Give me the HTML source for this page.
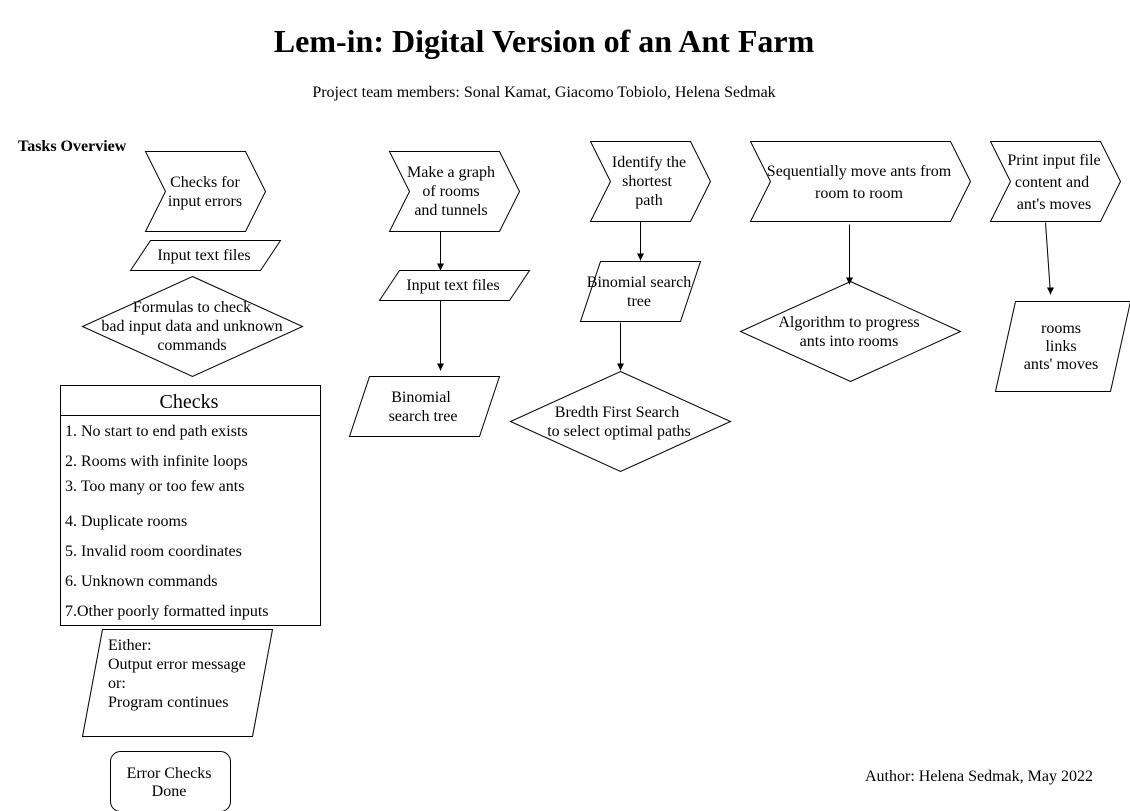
<!DOCTYPE html>
<html><head><meta charset="utf-8"><style>
html,body{margin:0;padding:0;background:#fff;}
svg{display:block;font-family:"Liberation Serif",serif;}
text{font-size:16px;fill:#000;}
</style></head><body>
<svg width="1130" height="811" viewBox="0 0 1130 811" xmlns="http://www.w3.org/2000/svg">
<defs><marker id="a" markerWidth="10" markerHeight="10" refX="3.5" refY="7" orient="0" markerUnits="userSpaceOnUse"><path d="M0,0 L7,0 L3.5,7 z"/></marker></defs>
<g fill="none" stroke="#000" stroke-width="1" transform="translate(0.5,0.5)">
<polygon points="145,151 245,151 265,191 245,231 145,231 165,191" fill="#fff"/>
<polygon points="389,151 499,151 519,191 499,231 389,231 409,191" fill="#fff"/>
<polygon points="590,141 690,141 710,181 690,221 590,221 610,181" fill="#fff"/>
<polygon points="750,141 950,141 970,181 950,221 750,221 770,181" fill="#fff"/>
<polygon points="990,141 1100,141 1120,181 1100,221 990,221 1010,181" fill="#fff"/>
<polygon points="150,240 280,240 260,270 130,270"/>
<polygon points="399,270 529,270 509,300 379,300"/>
<polygon points="369,376 499,376 479,436 349,436"/>
<polygon points="600,261 700,261 680,321 580,321"/>
<polygon points="1015,301 1130,301 1110,391 995,391"/>
<polygon points="102,629 272,629 252,736 82,736"/>
<polygon points="192,276 302,326 192,376 82,326"/>
<polygon points="620,371 730,421 620,471 510,421"/>
<polygon points="850,281 960,331 850,381 740,331"/>
<rect x="60" y="385" width="260" height="240"/>
<line x1="60" y1="415" x2="320" y2="415"/>
<rect x="110" y="751" width="120" height="60" rx="10"/>
<path d="M440,231 Q440,236 440,240 L440,270" marker-end="url(#a)"/>
<line x1="440" y1="300" x2="440" y2="370" marker-end="url(#a)"/>
<line x1="640" y1="221" x2="640" y2="260" marker-end="url(#a)"/>
<line x1="620" y1="322" x2="620" y2="370" marker-end="url(#a)"/>
<line x1="849" y1="224" x2="849" y2="284" marker-end="url(#a)"/>
<line x1="1045" y1="222" x2="1050" y2="294" marker-end="url(#a)"/>
</g>
<text x="544" y="52" text-anchor="middle" style="font-size:32px;font-weight:bold">Lem-in: Digital Version of an Ant Farm</text>
<text x="544" y="97" text-anchor="middle">Project team members: Sonal Kamat, Giacomo Tobiolo, Helena Sedmak</text>
<text x="18" y="151" style="font-weight:bold">Tasks Overview</text>
<g text-anchor="middle">
<text x="205" y="187">Checks for</text><text x="205" y="206">input errors</text>
<text x="451" y="177">Make a graph</text><text x="451" y="196">of rooms</text><text x="451" y="215">and tunnels</text>
<text x="649" y="167">Identify the</text><text x="647" y="186">shortest</text><text x="649" y="205">path</text>
<text x="859" y="176">Sequentially move ants from</text><text x="859" y="198">room to room</text>
<text x="1054" y="165">Print input file</text><text x="1052" y="187">content and</text><text x="1054" y="209">ant's moves</text>
<text x="204" y="260">Input text files</text>
<text x="453" y="290">Input text files</text>
<text x="421" y="402">Binomial</text><text x="423" y="421">search tree</text>
<text x="639" y="287">Binomial search</text><text x="639" y="306">tree</text>
<text x="1061" y="333">rooms</text><text x="1061" y="351">links</text><text x="1061" y="369">ants' moves</text>
<text x="192" y="312">Formulas to check</text><text x="192" y="331">bad input data and unknown</text><text x="192" y="350">commands</text>
<text x="617" y="417">Bredth First Search</text><text x="619" y="436">to select optimal paths</text>
<text x="849" y="327">Algorithm to progress</text><text x="849" y="346">ants into rooms</text>
<text x="189" y="408" style="font-size:20px">Checks</text>
<text x="169" y="778">Error Checks</text><text x="169" y="796">Done</text>
</g>
<text x="65" y="436">1. No start to end path exists</text>
<text x="65" y="466">2. Rooms with infinite loops</text>
<text x="65" y="491">3. Too many or too few ants</text>
<text x="65" y="526">4. Duplicate rooms</text>
<text x="65" y="556">5. Invalid room coordinates</text>
<text x="65" y="586">6. Unknown commands</text>
<text x="65" y="616">7.Other poorly formatted inputs</text>
<text x="108" y="650">Either:</text><text x="108" y="669">Output error message</text><text x="108" y="688">or:</text><text x="108" y="707">Program continues</text>
<text x="865" y="781">Author: Helena Sedmak, May 2022</text>
</svg>
</body></html>
